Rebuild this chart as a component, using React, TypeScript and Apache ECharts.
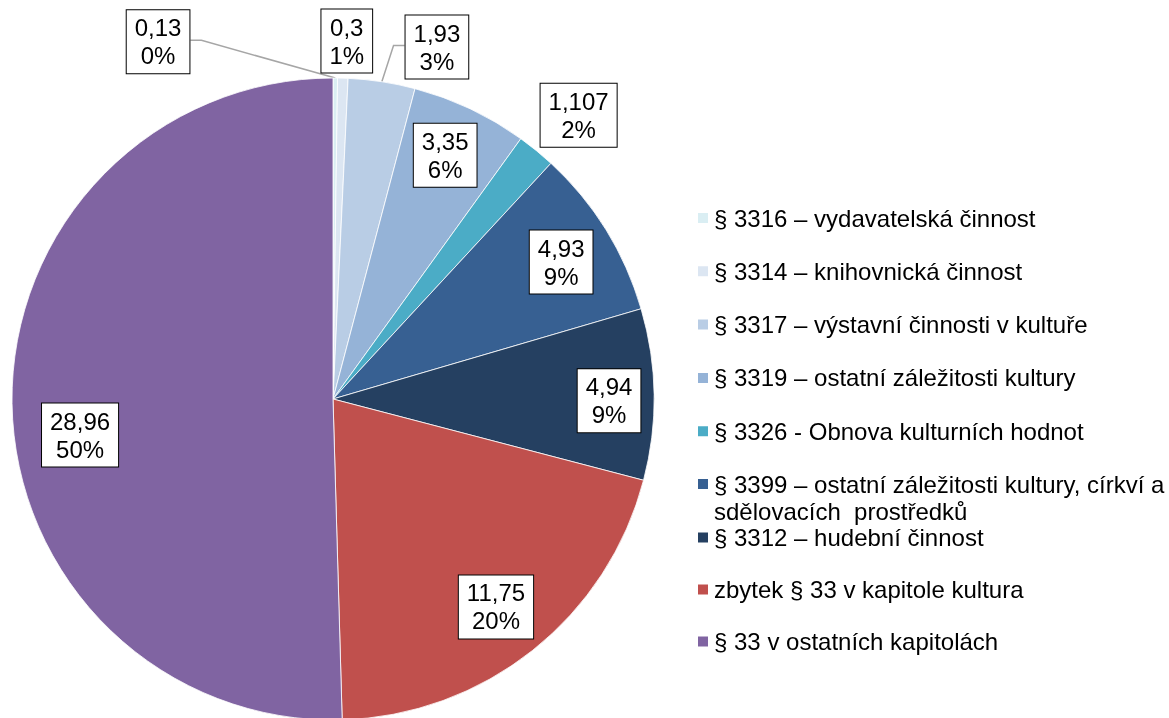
import React, { useEffect, useRef } from "react";
import * as echarts from "echarts";

const CATEGORIES = [
  "§ 3316 – vydavatelská činnost",
  "§ 3314 – knihovnická činnost",
  "§ 3317 – výstavní činnosti v kultuře",
  "§ 3319 – ostatní záležitosti kultury",
  "§ 3326 - Obnova kulturních hodnot",
  "§ 3399 – ostatní záležitosti kultury, církví a sdělovacích  prostředků",
  "§ 3312 – hudební činnost",
  "zbytek § 33 v kapitole kultura",
  "§ 33 v ostatních kapitolách",
];
const VALUES = [0.13, 0.3, 1.93, 3.35, 1.107, 4.93, 4.94, 11.75, 28.96];
const COLORS = [
  "#DAEEF3",
  "#DCE6F2",
  "#B9CDE5",
  "#95B3D7",
  "#4BACC6",
  "#376092",
  "#254061",
  "#C0504D",
  "#8064A2",
];

// label placement (style): radius fraction and angle shift from slice middle
const LABEL_RADIUS = [1.239, 1.116, 1.143, 0.836, 1.169, 0.829, 0.86, 0.823, 0.796];
const LABEL_SHIFT = [-26.5, 0.45, 7.7, -0.6, 1.6, 0.8, 1.2, 0.4, -7.3];
const LEADER = [true, false, true, false, false, false, false, false, false];
const OUTSIDE = [true, true, true, false, true, false, false, false, false];

const CX = 333;
const CY = 399;
const R = 321;
const FONT = "'Liberation Sans', Arial, sans-serif";

export default function App() {
  const ref = useRef<HTMLDivElement>(null);
  useEffect(() => {
    if (!ref.current) return;
    const chart = echarts.init(ref.current, undefined, { renderer: "svg" });
    const total = VALUES.reduce((a, b) => a + b, 0);
    const mids: number[] = [];
    let acc = 0;
    VALUES.forEach((v) => {
      mids.push(((acc + v / 2) / total) * 360);
      acc += v;
    });

    const legendText = { color: "#000", fontSize: 24, fontFamily: FONT, lineHeight: 27 };
    const commonLegend = {
      orient: "vertical" as const,
      left: 696,
      padding: 0,
      itemWidth: 12,
      itemHeight: 12,
      itemGap: 26.3,
      icon: "rect",
      selectedMode: false,
    };

    chart.setOption({
      animation: false,
      color: COLORS,
      legend: [
        {
          ...commonLegend,
          top: 204.5,
          data: CATEGORIES.slice(0, 5),
          textStyle: legendText,
        },
        {
          ...commonLegend,
          top: 443.5,
          data: CATEGORIES.slice(5, 6),
          formatter: (n: string) => " \n" + n.replace(" a ", " a\n"),
          textStyle: legendText,
        },
        {
          ...commonLegend,
          top: 524,
          itemGap: 25,
          data: CATEGORIES.slice(6),
          textStyle: legendText,
        },
      ],
      series: [
        {
          type: "pie",
          center: [CX, CY],
          radius: R,
          startAngle: 90,
          clockwise: true,
          avoidLabelOverlap: false,
          itemStyle: { borderColor: "#ffffff", borderWidth: 0.8 },
          emphasis: { disabled: true },
          label: {
            show: true,
            color: "#000",
            fontSize: 24,
            fontFamily: FONT,
            lineHeight: 28,
            align: "center",
            backgroundColor: "#ffffff",
            borderColor: "#000000",
            borderWidth: 1,
            padding: [4, 8, 3, 8],
            formatter: (p: any) =>
              String(p.value).replace(".", ",") + "\n" + Math.round((p.value / total) * 100) + "%",
          },
          labelLine: { lineStyle: { color: "#A6A6A6", width: 1.5 } },
          data: CATEGORIES.map((name, i) => ({
            name,
            value: VALUES[i],
            label: { position: OUTSIDE[i] ? "outside" : "inside" },
            labelLine: { show: LEADER[i] },
          })),
          labelLayout: (p: any) => {
            const i = p.dataIndex;
            const a = ((mids[i] + LABEL_SHIFT[i]) * Math.PI) / 180;
            const x = CX + R * LABEL_RADIUS[i] * Math.sin(a);
            const y = CY - R * LABEL_RADIUS[i] * Math.cos(a);
            const out: any = { x, y, align: "center", verticalAlign: "middle" };
            if (LEADER[i]) {
              const m = (mids[i] * Math.PI) / 180;
              const ex = CX + R * Math.sin(m);
              const ey = CY - R * Math.cos(m);
              const w = p.labelRect.width;
              const side = x < ex ? x + w / 2 : x - w / 2;
              const dir = x < ex ? 1 : -1;
              out.labelLinePoints = [
                [ex, ey],
                [side + dir * 11, y - 1.5],
                [side, y - 1.5],
              ];
            }
            return out;
          },
        },
      ],
    });
    return () => chart.dispose();
  }, []);
  return (
    <div
      ref={ref}
      style={{ position: "fixed", left: 0, top: 0, width: 1169, height: 718 }}
    />
  );
}
